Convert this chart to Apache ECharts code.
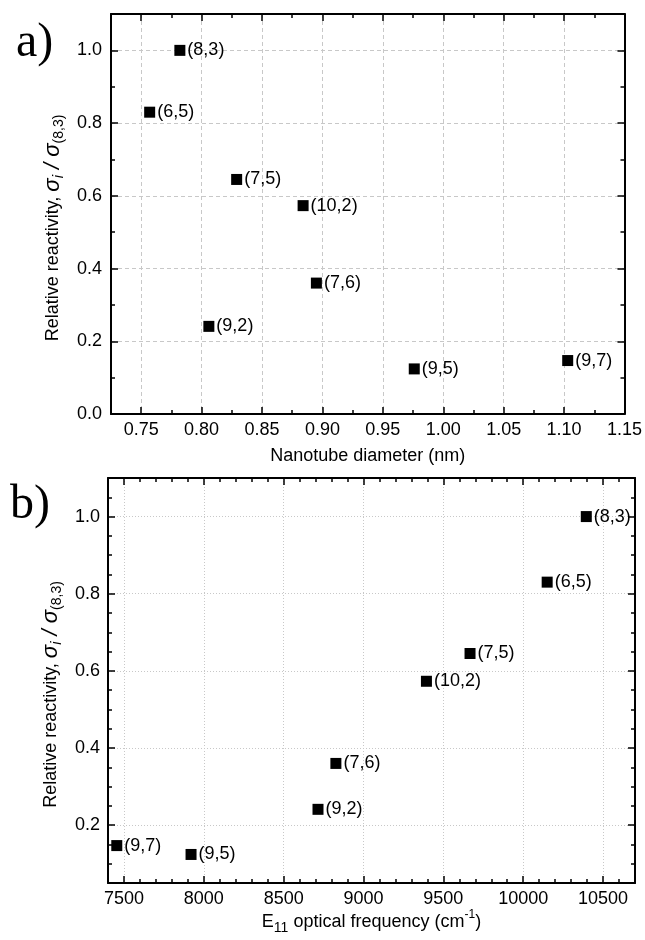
<!DOCTYPE html>
<html>
<head>
<meta charset="utf-8">
<script src="https://cdn.jsdelivr.net/npm/echarts@6/dist/echarts.min.js"></script>
<style>
  html, body { margin: 0; padding: 0; background: #fff; }
  #chart { width: 645px; height: 940px; }
</style>
</head>
<body>
<div id="chart"></div>
<script>
// Nanotube species (n,m) with diameter, E11 optical frequency and relative reactivity
const chirality = ['(8,3)', '(6,5)', '(7,5)', '(10,2)', '(7,6)', '(9,2)', '(9,5)', '(9,7)'];
const diameterNm = [0.782, 0.757, 0.829, 0.884, 0.895, 0.806, 0.976, 1.103];
const e11Frequency = [10395, 10150, 9667, 9394, 8827, 8715, 7920, 7455];
const relReactivity = [1.0, 0.83, 0.645, 0.573, 0.36, 0.241, 0.124, 0.147];

// Axis ranges
const diameterRange = [0.725, 1.15];
const frequencyRange = [7400, 10700];
const reactivityRangeA = [0, 1.1];
const reactivityRangeB = [0.05, 1.1];

const FONT = "'Liberation Sans', Arial, sans-serif";
const SERIF = "'Liberation Serif', 'Times New Roman', serif";

const chart = echarts.init(document.getElementById('chart'), null, { renderer: 'canvas' });

const frameLine = { show: true, onZero: false, lineStyle: { color: '#000', width: 2 } };
const majorTick = { show: true, inside: true, length: 7, lineStyle: { color: '#000', width: 1.5 } };
const minorTickStyle = (n) => ({ show: true, splitNumber: n, length: 4, lineStyle: { color: '#000', width: 1.5 } });
const tickLabel = (fmt, margin) => ({
  show: true, color: '#000', fontSize: 18, fontFamily: FONT, margin: margin,
  showMinLabel: false, showMaxLabel: null, formatter: fmt
});

// Rotated y title: italic sigma with subscripts
const yName = '{t|Relative reactivity, }{g|σ}{si|i}{g| / σ}{s|(8,3)}';
const nameRich = {
  t: { fontSize: 18, fontFamily: FONT, color: '#000', lineHeight: 26 },
  g: { fontSize: 22, fontFamily: FONT, color: '#000', fontStyle: 'italic', lineHeight: 26 },
  si: { fontSize: 15, fontFamily: FONT, color: '#000', fontStyle: 'italic', lineHeight: 13, verticalAlign: 'bottom' },
  s: { fontSize: 14, fontFamily: FONT, color: '#000', lineHeight: 13, verticalAlign: 'bottom' },
  p: { fontSize: 12, fontFamily: FONT, color: '#000', lineHeight: 12, verticalAlign: 'top' }
};

function pairs(xs, ys) {
  return xs.map((x, i) => [x, ys[i]]);
}

const option = {
  animation: false,
  backgroundColor: '#fff',
  grid: [
    { left: 111, top: 14, width: 515, height: 400 },
    { left: 108, top: 478, width: 527, height: 405 }
  ],
  xAxis: [
    {
      type: 'value', gridIndex: 0, position: 'bottom',
      min: diameterRange[0], max: diameterRange[1], splitNumber: 8,
      axisLine: frameLine, axisTick: majorTick, minorTick: minorTickStyle(2),
      axisLabel: Object.assign(tickLabel(v => v.toFixed(2), 7), { showMaxLabel: true }),
      splitLine: { show: true, lineStyle: { color: '#c8c8c8', width: 1, type: [4, 3] } },
      name: 'Nanotube diameter (nm)', nameLocation: 'middle', nameGap: 32,
      nameTextStyle: { fontSize: 18, fontFamily: FONT, color: '#000', lineHeight: 20 }
    },
    {
      type: 'value', gridIndex: 0, position: 'top',
      min: diameterRange[0], max: diameterRange[1], splitNumber: 8,
      axisLine: frameLine, axisTick: majorTick, minorTick: minorTickStyle(2),
      axisLabel: { show: false }, splitLine: { show: false }
    },
    {
      type: 'value', gridIndex: 1, position: 'bottom',
      min: frequencyRange[0], max: frequencyRange[1], splitNumber: 6,
      axisLine: frameLine, axisTick: majorTick, minorTick: minorTickStyle(5),
      axisLabel: Object.assign(tickLabel(v => String(v), 7), { showMaxLabel: false }),
      splitLine: { show: true, lineStyle: { color: '#c8c8c8', width: 1, type: [1, 2] } },
      name: 'E{s|11} optical frequency (cm{p|-1}{t|)}', nameLocation: 'middle', nameGap: 17,
      nameTextStyle: { fontSize: 18, fontFamily: FONT, color: '#000', lineHeight: 26, rich: nameRich }
    },
    {
      type: 'value', gridIndex: 1, position: 'top',
      min: frequencyRange[0], max: frequencyRange[1], splitNumber: 6,
      axisLine: frameLine, axisTick: majorTick, minorTick: minorTickStyle(5),
      axisLabel: { show: false }, splitLine: { show: false }
    }
  ],
  yAxis: [
    {
      type: 'value', gridIndex: 0, position: 'left',
      min: reactivityRangeA[0], max: reactivityRangeA[1], interval: 0.2,
      axisLine: frameLine, axisTick: majorTick, minorTick: minorTickStyle(2),
      axisLabel: Object.assign(tickLabel(v => v.toFixed(1), 9), { showMinLabel: true, showMaxLabel: false }),
      splitLine: { show: true, lineStyle: { color: '#c8c8c8', width: 1, type: [4, 3] } },
      name: yName, nameLocation: 'middle', nameRotate: 90, nameGap: 41,
      nameTextStyle: { fontSize: 18, fontFamily: FONT, color: '#000', lineHeight: 26, padding: [0, 28, 0, 0], rich: nameRich }
    },
    {
      type: 'value', gridIndex: 0, position: 'right',
      min: reactivityRangeA[0], max: reactivityRangeA[1], interval: 0.2,
      axisLine: frameLine, axisTick: majorTick, minorTick: minorTickStyle(2),
      axisLabel: { show: false }, splitLine: { show: false }
    },
    {
      type: 'value', gridIndex: 1, position: 'left',
      min: reactivityRangeB[0], max: reactivityRangeB[1], splitNumber: 5,
      axisLine: frameLine, axisTick: majorTick, minorTick: minorTickStyle(4),
      axisLabel: Object.assign(tickLabel(v => v.toFixed(1), 8), { showMaxLabel: false }),
      splitLine: { show: true, lineStyle: { color: '#c8c8c8', width: 1, type: [1, 2] } },
      name: yName, nameLocation: 'middle', nameRotate: 90, nameGap: 38,
      nameTextStyle: { fontSize: 18, fontFamily: FONT, color: '#000', lineHeight: 26, padding: [0, 28, 0, 0], rich: nameRich }
    },
    {
      type: 'value', gridIndex: 1, position: 'right',
      min: reactivityRangeB[0], max: reactivityRangeB[1], splitNumber: 5,
      axisLine: frameLine, axisTick: majorTick, minorTick: minorTickStyle(4),
      axisLabel: { show: false }, splitLine: { show: false }
    }
  ],
  series: [
    {
      type: 'scatter', xAxisIndex: 0, yAxisIndex: 0,
      data: pairs(diameterNm, relReactivity),
      symbol: 'rect', symbolSize: 11,
      itemStyle: { color: '#000', opacity: 1 },
      label: {
        show: true, position: 'right', distance: 2,
        fontSize: 18, fontFamily: FONT, color: '#000',
        formatter: p => chirality[p.dataIndex]
      }
    },
    {
      type: 'scatter', xAxisIndex: 2, yAxisIndex: 2,
      data: pairs(e11Frequency, relReactivity),
      symbol: 'rect', symbolSize: 11,
      itemStyle: { color: '#000', opacity: 1 },
      label: {
        show: true, position: 'right', distance: 2,
        fontSize: 18, fontFamily: FONT, color: '#000',
        formatter: p => chirality[p.dataIndex]
      }
    }
  ],
  graphic: [
    { type: 'text', left: 16, top: 19, style: { text: 'a)', font: '48px ' + SERIF, fill: '#000' } },
    { type: 'text', left: 10, top: 481, style: { text: 'b)', font: '48px ' + SERIF, fill: '#000' } }
  ]
};

chart.setOption(option);
</script>
</body>
</html>
